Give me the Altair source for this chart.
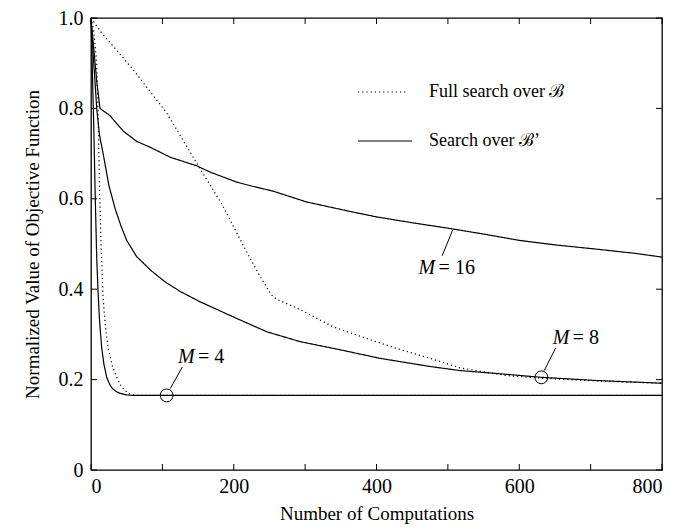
import altair as alt
import pandas as pd

# ---- data ----
m4_search_x = [0, 2, 4, 6, 8, 10, 12, 15, 18, 22, 26, 30, 35, 40, 50, 60, 800]
m4_search_y = [1.0, 0.88, 0.75, 0.60, 0.47, 0.39, 0.33, 0.27, 0.235, 0.205, 0.19, 0.18, 0.174, 0.17, 0.166, 0.165, 0.165]

m4_full_x = [0, 4, 8, 10, 12, 14, 17, 20, 24, 30, 36, 42, 48, 55, 62, 800]
m4_full_y = [1.0, 0.97, 0.90, 0.78, 0.62, 0.50, 0.38, 0.32, 0.27, 0.23, 0.205, 0.186, 0.175, 0.168, 0.165, 0.165]

m8_search_x = [0, 3, 6, 8, 12, 17, 25, 34, 42, 50, 64, 85, 104, 125, 153, 199, 246, 293, 349, 405, 475, 517, 580, 631, 708, 800]
m8_search_y = [1.0, 0.92, 0.85, 0.80, 0.74, 0.70, 0.63, 0.577, 0.54, 0.508, 0.472, 0.44, 0.416, 0.395, 0.372, 0.339, 0.306, 0.284, 0.266, 0.247, 0.229, 0.22, 0.212, 0.205, 0.198, 0.192]

m8_full_x = [0, 15, 59, 106, 153, 183, 213, 223, 240, 253, 260, 293, 339, 386, 428, 475, 517, 582, 631, 708, 800]
m8_full_y = [1.0, 0.967, 0.886, 0.79, 0.666, 0.589, 0.498, 0.468, 0.42, 0.387, 0.378, 0.355, 0.317, 0.291, 0.269, 0.247, 0.226, 0.209, 0.203, 0.197, 0.192]

m16_search_x = [0, 4, 8, 12.6, 26.6, 45, 64, 83, 111, 148, 167, 204, 223, 255, 302, 363, 400, 450, 500, 550, 600, 650, 700, 764, 800]
m16_search_y = [1.0, 0.93, 0.86, 0.80, 0.784, 0.75, 0.727, 0.714, 0.692, 0.673, 0.659, 0.637, 0.629, 0.617, 0.593, 0.572, 0.560, 0.547, 0.535, 0.522, 0.508, 0.498, 0.490, 0.479, 0.471]

# annotations
ann_labels = ["4", "8", "16"]
ann_circle_x = [106, 631]
ann_circle_y = [0.165, 0.205]
ann_text_x = [122, 647, 459]
ann_text_y = [0.249, 0.291, 0.446]
leader_x = [111, 635, 492]
leader_y = [0.18, 0.22, 0.474]
leader_x2 = [128, 651, 507]
leader_y2 = [0.228, 0.27, 0.532]

x_ticks = [0, 100, 200, 300, 400, 500, 600, 700, 800]
x_labels = [0, 200, 400, 600, 800]
y_ticks = [0, 0.2, 0.4, 0.6, 0.8, 1.0]

legend_labels = ["Full search over ℬ", "Search over  ℬ’"]

W, H = 571, 452
FONT = "Liberation Serif"

rows = []
for name, style, xs, ys in [
    ("m4s", "solid", m4_search_x, m4_search_y),
    ("m4f", "dot", m4_full_x, m4_full_y),
    ("m8s", "solid", m8_search_x, m8_search_y),
    ("m8f", "dot", m8_full_x, m8_full_y),
    ("m16s", "solid", m16_search_x, m16_search_y),
]:
    for i, (a, b) in enumerate(zip(xs, ys)):
        rows.append({"series": name, "style": style, "x": a, "y": b, "order": i})
df = pd.DataFrame(rows)

xscale = alt.Scale(domain=[0, 800], nice=False, zero=False)
yscale = alt.Scale(domain=[0, 1.0], nice=False, zero=False)

base = alt.Chart(df)

lines = base.mark_line(color="black", strokeWidth=1.2).encode(
    x=alt.X("x:Q", scale=xscale, title="Number of Computations",
            axis=alt.Axis(values=x_labels, ticks=False, tickSize=0,
                          domain=False, grid=False, labelPadding=6, titlePadding=8)),
    y=alt.Y("y:Q", scale=yscale, title="Normalized Value of Objective Function",
            axis=alt.Axis(values=y_ticks, ticks=False, tickSize=0, domain=False, grid=False,
                          labelPadding=8, titlePadding=16,
                          labelExpr="datum.value == 0 ? '0' : format(datum.value, '.1f')")),
    detail="series:N",
    order="order:Q",
    strokeDash=alt.StrokeDash("style:N", scale=alt.Scale(domain=["solid", "dot"], range=[[1, 0], [1.2, 3]]), legend=None),
)

# inward ticks
xt = pd.DataFrame({"v": x_ticks})
yt = pd.DataFrame({"v": y_ticks})
tb = alt.Chart(xt).mark_rule(color="black", strokeWidth=1).encode(
    x=alt.X("v:Q", scale=xscale), y=alt.value(H), y2=alt.value(H - 6))
tt = alt.Chart(xt).mark_rule(color="black", strokeWidth=1).encode(
    x=alt.X("v:Q", scale=xscale), y=alt.value(0), y2=alt.value(6))
tl = alt.Chart(yt).mark_rule(color="black", strokeWidth=1).encode(
    y=alt.Y("v:Q", scale=yscale), x=alt.value(0), x2=alt.value(6))
tr = alt.Chart(yt).mark_rule(color="black", strokeWidth=1).encode(
    y=alt.Y("v:Q", scale=yscale), x=alt.value(W), x2=alt.value(W - 6))

# annotation circles and leaders
circ = alt.Chart(pd.DataFrame({"x": ann_circle_x, "y": ann_circle_y})).mark_point(
    shape="circle", filled=False, color="black", size=165, strokeWidth=1, opacity=1).encode(
    x=alt.X("x:Q", scale=xscale), y=alt.Y("y:Q", scale=yscale))
lead = alt.Chart(pd.DataFrame({"x": leader_x, "y": leader_y, "x2": leader_x2, "y2": leader_y2})).mark_rule(
    color="black", strokeWidth=1).encode(
    x=alt.X("x:Q", scale=xscale), y=alt.Y("y:Q", scale=yscale), x2="x2:Q", y2="y2:Q")
adf = pd.DataFrame({"x": ann_text_x, "y": ann_text_y, "n": ["= " + s for s in ann_labels]})
tM = alt.Chart(adf).mark_text(text="M", font=FONT, fontStyle="italic", fontSize=20, align="left",
                              baseline="middle", color="black").encode(
    x=alt.X("x:Q", scale=xscale), y=alt.Y("y:Q", scale=yscale))
tN = alt.Chart(adf).mark_text(font=FONT, fontSize=20, align="left", baseline="middle", dx=20,
                              color="black").encode(
    x=alt.X("x:Q", scale=xscale), y=alt.Y("y:Q", scale=yscale), text="n:N")

# legend
ldf = pd.DataFrame({"label": legend_labels, "style": ["dot", "solid"], "ly": [74, 123]})
leg_lines_dot = alt.Chart(ldf.iloc[[0]]).mark_rule(color="black", strokeWidth=1.2, strokeDash=[1.2, 3]).encode(
    x=alt.value(267), x2=alt.value(317), y=alt.value(74))
leg_lines_solid = alt.Chart(ldf.iloc[[1]]).mark_rule(color="black", strokeWidth=1.2).encode(
    x=alt.value(267), x2=alt.value(321), y=alt.value(123))
leg_text = alt.Chart(ldf).mark_text(font=FONT, fontSize=18, align="left", baseline="middle", color="black").encode(
    x=alt.value(338), y=alt.Y("ly:Q", scale=None), text="label:N")

chart = alt.layer(lines, tb, tt, tl, tr, circ, lead, tM, tN, leg_lines_dot, leg_lines_solid, leg_text).properties(
    width=W, height=H,
    background="white",
    autosize=alt.AutoSizeParams(type="none"),
    padding={"left": 83, "top": 10, "right": 20, "bottom": 58},
).configure_view(stroke="black", strokeWidth=1.3).configure_axis(
    labelFont=FONT, titleFont=FONT, labelFontSize=20, titleFontSize=19,
    labelColor="black", titleColor="black", titleFontWeight="normal",
)

chart.save("out.html", embed_options={"renderer": "svg", "actions": False})
